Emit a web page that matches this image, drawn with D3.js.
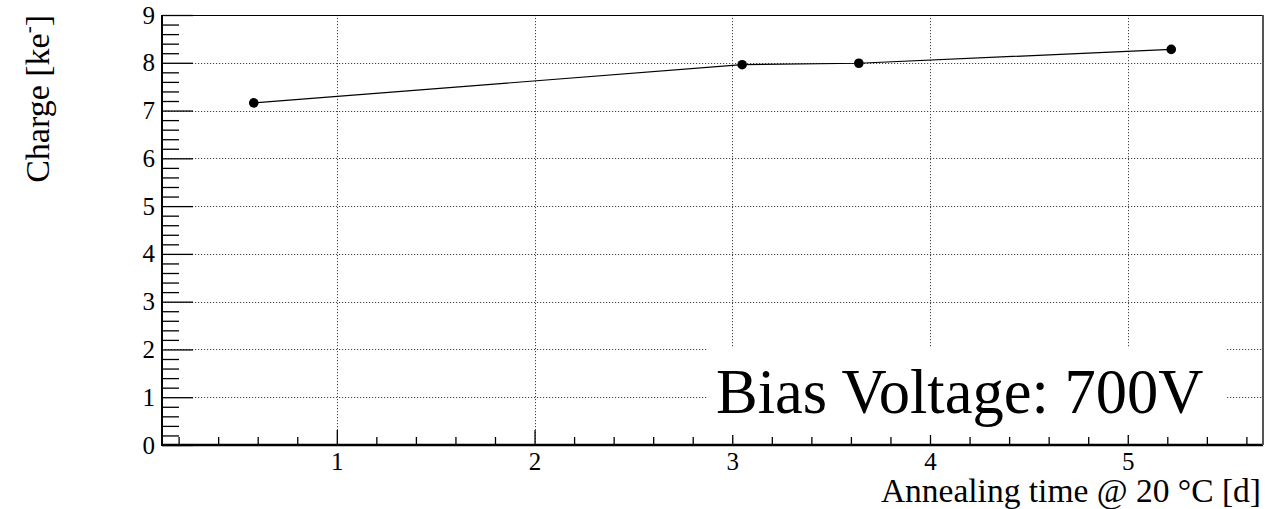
<!DOCTYPE html>
<html>
<head>
<meta charset="utf-8">
<script src="https://cdn.jsdelivr.net/npm/d3@7"></script>
<style>
  body { margin: 0; background: #fff; }
  text { font-family: "Liberation Serif", "Times New Roman", serif; fill: #000; }
</style>
</head>
<body>
<div id="chart"></div>
<script>
// annealing data
var annealTime = [0.58, 3.05, 3.64, 5.22];
var charge = [7.16, 7.96, 7.99, 8.28];
var xMajor = [1, 2, 3, 4, 5];
var yMajor = [0, 1, 2, 3, 4, 5, 6, 7, 8, 9];
var xDomain = [0.116, 5.684];
var yDomain = [0, 9];
var legendText = "Bias Voltage: 700V";

var points = annealTime.map(function (t, i) { return { t: t, q: charge[i] }; });

var W = 1286, H = 509;
var fLeft = 162, fRight = 1263, fTop = 15, fBottom = 445;

var svg = d3.select('#chart').append('svg')
    .attr('width', W).attr('height', H);

var x = d3.scaleLinear().domain(xDomain).range([fLeft, fRight]);
var y = d3.scaleLinear().domain(yDomain).range([fBottom, fTop]);

// minor tick positions every 0.2
var xMinor = d3.range(1, 29).map(function (i) { return +(i * 0.2).toFixed(1); })
    .filter(function (v) { return v > xDomain[0] && v < xDomain[1] && Math.abs(v - Math.round(v)) > 1e-6; });
var yMinor = d3.range(1, 45).map(function (i) { return +(i * 0.2).toFixed(1); })
    .filter(function (v) { return Math.abs(v - Math.round(v)) > 1e-6; });

// grid
var grid = svg.append('g').attr('stroke', '#444').attr('stroke-width', 1)
    .attr('stroke-dasharray', '1.2,1.8');
grid.selectAll('.gx').data(xMajor).enter().append('line')
    .attr('x1', function (d) { return Math.round(x(d)) + 0.5; })
    .attr('x2', function (d) { return Math.round(x(d)) + 0.5; })
    .attr('y1', fTop).attr('y2', fBottom);
grid.selectAll('.gy').data(yMajor.slice(1, -1)).enter().append('line')
    .attr('y1', function (d) { return Math.round(y(d)) + 0.5; })
    .attr('y2', function (d) { return Math.round(y(d)) + 0.5; })
    .attr('x1', fLeft).attr('x2', fRight);

// y axis
var yAxis = svg.append('g').attr('transform', 'translate(' + fLeft + ',0)')
    .call(d3.axisLeft(y).tickValues(yMajor).tickSizeInner(-31).tickSizeOuter(0).tickPadding(7)
        .tickFormat(d3.format('d')));
svg.append('g').attr('transform', 'translate(' + fLeft + ',0)')
    .call(d3.axisLeft(y).tickValues(yMinor).tickSizeInner(-17).tickSizeOuter(0).tickFormat(''))
    .select('.domain').remove();

// x axis
var xAxis = svg.append('g').attr('transform', 'translate(0,' + fBottom + ')')
    .call(d3.axisBottom(x).tickValues(xMajor).tickSizeInner(-15).tickSizeOuter(0).tickPadding(7)
        .tickFormat(d3.format('d')));
svg.append('g').attr('transform', 'translate(0,' + fBottom + ')')
    .call(d3.axisBottom(x).tickValues(xMinor).tickSizeInner(-8).tickSizeOuter(0).tickFormat(''))
    .select('.domain').remove();

svg.selectAll('.tick line').attr('stroke', '#000').attr('stroke-width', 1.3);
svg.selectAll('.tick text').attr('font-size', 25).style('font-size', '25px')
    .attr('font-family', '"Liberation Serif", serif');
yAxis.select('.domain').remove();
xAxis.select('.domain').remove();

// frame
svg.append('rect').attr('x', fLeft + 0.5).attr('y', fTop + 0.5)
    .attr('width', fRight - fLeft - 1).attr('height', fBottom - fTop - 1)
    .attr('fill', 'none').attr('stroke', '#000').attr('stroke-width', 1);
svg.append('line').attr('x1', fLeft).attr('x2', fLeft).attr('y1', fTop).attr('y2', fBottom + 1)
    .attr('stroke', '#000').attr('stroke-width', 2);
svg.append('line').attr('x1', fLeft).attr('x2', fRight).attr('y1', fBottom).attr('y2', fBottom)
    .attr('stroke', '#000').attr('stroke-width', 2.5);
svg.append('line').attr('x1', fRight).attr('x2', fRight).attr('y1', fTop).attr('y2', fBottom)
    .attr('stroke', '#555').attr('stroke-width', 2);

// legend box
svg.append('rect').attr('x', 707).attr('y', 347).attr('width', 520).attr('height', 88)
    .attr('fill', '#fff');
svg.append('text').attr('x', 716).attr('y', 413)
    .style('font-size', '62.5px').text(legendText);

// data line + markers
var line = d3.line().x(function (d) { return x(d.t); }).y(function (d) { return y(d.q); });
svg.append('path').datum(points).attr('d', line)
    .attr('fill', 'none').attr('stroke', '#000').attr('stroke-width', 1.2);
svg.selectAll('.dot').data(points).enter().append('circle')
    .attr('class', 'dot')
    .attr('cx', function (d) { return x(d.t); })
    .attr('cy', function (d) { return y(d.q); })
    .attr('r', 4.8).attr('fill', '#000');

// axis titles
svg.append('text').attr('x', 1261).attr('y', 502).attr('text-anchor', 'end')
    .style('font-size', '33.5px').text('Annealing time @ 20 \u00B0C [d]');
var yt = svg.append('text').attr('transform', 'translate(49,15) rotate(-90)')
    .attr('text-anchor', 'end').style('font-size', '34px');
yt.append('tspan').text('Charge [ke');
yt.append('tspan').attr('dy', -14).style('font-size', '21px').text('-');
yt.append('tspan').attr('dy', 14).text(']');
</script>
</body>
</html>
